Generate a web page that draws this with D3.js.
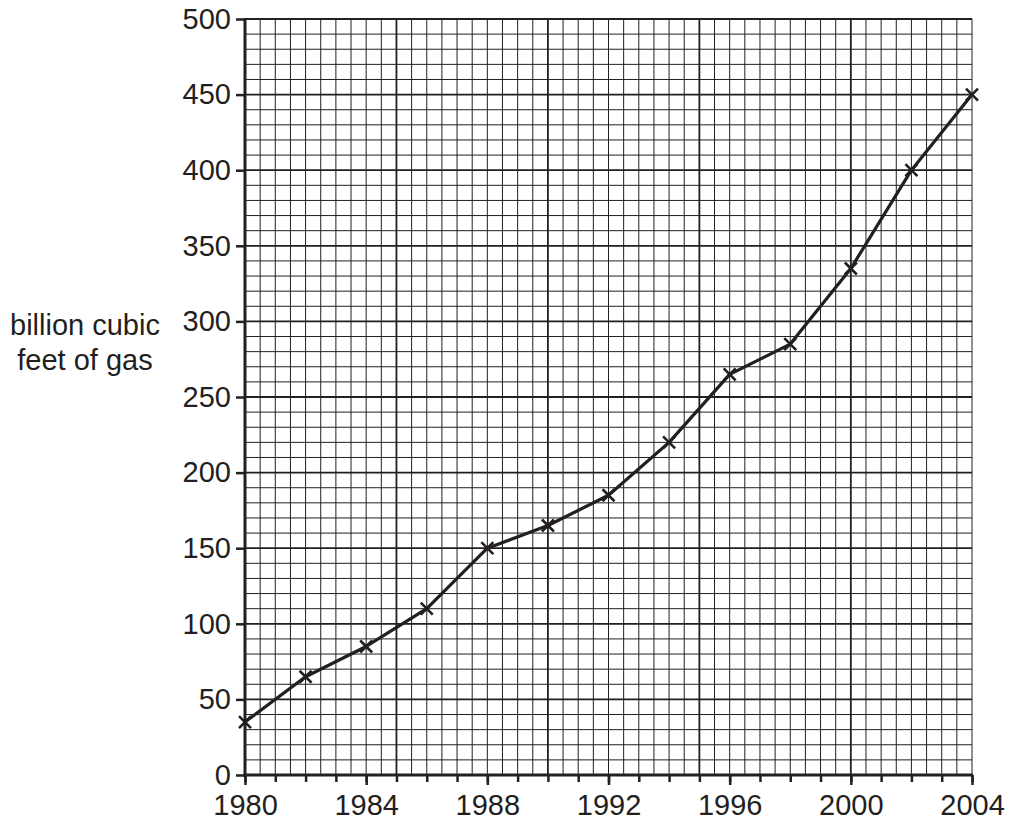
<!DOCTYPE html>
<html>
<head>
<meta charset="utf-8">
<script src="https://cdn.jsdelivr.net/npm/d3@7"></script>
<style>
  body { margin: 0; background: #fff; }
  text { font-family: "Liberation Sans", Arial, sans-serif; fill: #231f20; }
</style>
</head>
<body>
<script>
// gas production chart

var years = [1980, 1982, 1984, 1986, 1988, 1990, 1992, 1994, 1996, 1998, 2000, 2002, 2004];
var gas = [35, 65, 85, 110, 150, 165, 185, 220, 265, 285, 335, 400, 450];
var yearLabels = [1980, 1984, 1988, 1992, 1996, 2000, 2004];
var gasLabels = [0, 50, 100, 150, 200, 250, 300, 350, 400, 450, 500];
var titleLines = ['billion cubic', 'feet of gas'];

var opts = {};
opts.width = 1011;
opts.height = 821;
opts.left = 245;
opts.right = 972;
opts.top = 19;
opts.bottom = 775;
opts.ink = '#231f20';
opts.fontSize = 29;

var svg = d3.select('body').append('svg')
.attr('width', opts.width)
.attr('height', opts.height);

var x = d3.scaleLinear().domain([1980, 2004]).range([opts.left, opts.right]);
var y = d3.scaleLinear().domain([0, 500]).range([opts.bottom, opts.top]);

// grid: minor every half year / 10 units, major every 5 years / 50 units
var vLines = d3.range(1980, 2004.01, 0.5);
var hLines = d3.range(0, 500.01, 10);

var grid = svg.append('g');

grid.selectAll('line.v')
.data(vLines)
.enter()
.append('line')
.attr('class', 'v')
.attr('x1', function(d) {return x(d);})
.attr('x2', function(d) {return x(d);})
.attr('y1', y(0))
.attr('y2', y(500))
.attr('stroke', opts.ink)
.attr('stroke-width', function(d) {return (d - 1980) % 5 === 0 ? 1.8 : 1;});

grid.selectAll('line.h')
.data(hLines)
.enter()
.append('line')
.attr('class', 'h')
.attr('x1', x(1980))
.attr('x2', x(2004))
.attr('y1', function(d) {return y(d);})
.attr('y2', function(d) {return y(d);})
.attr('stroke', opts.ink)
.attr('stroke-width', function(d) {return d % 50 === 0 ? 1.8 : 1;});

// axes
var yAxis = d3.axisLeft(y)
.tickValues(gasLabels)
.tickSize(9)
.tickPadding(5);

var yG = svg.append('g')
.attr('transform', 'translate(' + opts.left + ',0)')
.call(yAxis);
yG.select('.domain').remove();

var xMinor = d3.axisBottom(x)
.tickValues(d3.range(1980, 2005, 1))
.tickSize(7)
.tickFormat('');
var xMinorG = svg.append('g')
.attr('transform', 'translate(0,' + opts.bottom + ')')
.call(xMinor);
xMinorG.select('.domain').remove();

var xAxis = d3.axisBottom(x)
.tickValues(yearLabels)
.tickSize(10)
.tickPadding(9)
.tickFormat(d3.format('d'));
var xG = svg.append('g')
.attr('transform', 'translate(0,' + opts.bottom + ')')
.call(xAxis);
xG.select('.domain').remove();

svg.selectAll('.tick line')
.attr('stroke', opts.ink)
.attr('stroke-width', 2.5);
svg.selectAll('.tick text')
.attr('font-size', opts.fontSize)
.attr('font-family', '"Liberation Sans", Arial, sans-serif')
.attr('fill', opts.ink);

// heavy axis lines
svg.append('line')
.attr('x1', x(1980)).attr('x2', x(1980))
.attr('y1', y(500) - 1).attr('y2', y(0) + 1.5)
.attr('stroke', opts.ink)
.attr('stroke-width', 3);
svg.append('line')
.attr('x1', x(1980) - 1.5).attr('x2', x(2004) + 1)
.attr('y1', y(0)).attr('y2', y(0))
.attr('stroke', opts.ink)
.attr('stroke-width', 3);

// y title
svg.append('text')
.attr('text-anchor', 'middle')
.attr('font-size', opts.fontSize)
.selectAll('tspan')
.data(titleLines)
.enter()
.append('tspan')
.attr('x', 85)
.attr('y', function(d, i) {return 335 + i * 35;})
.text(function(d) {return d;});

// data line
var pts = years.map(function(d, i) {return [d, gas[i]];});

svg.append('path')
.datum(pts)
.attr('fill', 'none')
.attr('stroke', opts.ink)
.attr('stroke-width', 3.2)
.attr('stroke-linejoin', 'round')
.attr('d', d3.line()
  .x(function(d) {return x(d[0]);})
  .y(function(d) {return y(d[1]);}));

// x markers
var s = 6;
svg.selectAll('path.mark')
.data(pts)
.enter()
.append('path')
.attr('class', 'mark')
.attr('fill', 'none')
.attr('stroke', opts.ink)
.attr('stroke-width', 2.6)
.attr('d', function(d) {
  var cx = x(d[0]), cy = y(d[1]);
  return 'M' + (cx - s) + ',' + (cy - s) + 'L' + (cx + s) + ',' + (cy + s) +
    'M' + (cx - s) + ',' + (cy + s) + 'L' + (cx + s) + ',' + (cy - s);
});
</script>
</body>
</html>
